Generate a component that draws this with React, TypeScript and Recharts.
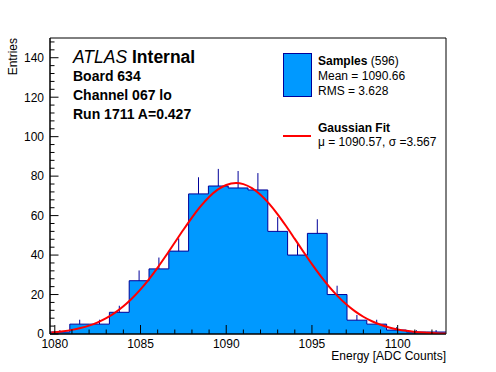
import React from "react";
import {
  ComposedChart,
  Area,
  Line,
  XAxis,
  YAxis,
  ReferenceLine,
  ReferenceArea,
} from "recharts";

// ---- Data ----
const binEdges = [
  1079.72, 1080.875, 1082.03, 1083.185, 1084.34, 1085.495, 1086.65, 1087.805,
  1088.96, 1090.115, 1091.27, 1092.425, 1093.58, 1094.735, 1095.89, 1097.045,
  1098.2, 1099.355, 1100.51, 1101.665, 1102.82,
];
const counts = [1, 5, 5, 11, 27, 33, 42, 71, 75, 74, 73, 52, 40, 51, 20, 7, 5, 2, 1, 1];

const fitX = [
  1079.8, 1080, 1080.5, 1081, 1081.5, 1082, 1082.5, 1083, 1083.5, 1084, 1084.5,
  1085, 1085.5, 1086, 1086.5, 1087, 1087.5, 1088, 1088.5, 1089, 1089.5, 1090,
  1090.57, 1091, 1091.5, 1092, 1092.5, 1093, 1093.5, 1094, 1094.5, 1095, 1095.5,
  1096, 1096.5, 1097, 1097.5, 1098, 1098.5, 1099, 1099.5, 1100, 1100.5, 1101,
  1101.5, 1102, 1102.5, 1102.8,
];
const fitY = [
  0.8, 0.95, 1.42, 2.09, 3.02, 4.27, 5.92, 8.05, 10.73, 14.03, 17.99, 22.61,
  27.86, 33.67, 39.9, 46.36, 52.82, 59.01, 64.64, 69.44, 73.13, 75.53, 76.5,
  75.95, 73.94, 70.59, 66.08, 60.66, 54.6, 48.18, 41.69, 35.38, 29.44, 24.01,
  19.21, 15.06, 11.59, 8.74, 6.46, 4.69, 3.33, 2.32, 1.59, 1.06, 0.7, 0.45,
  0.28, 0.21,
];

const xTicks = [
  1080, 1081, 1082, 1083, 1084, 1085, 1086, 1087, 1088, 1089, 1090, 1091, 1092,
  1093, 1094, 1095, 1096, 1097, 1098, 1099, 1100, 1101, 1102,
];
const xMajor = [1080, 1085, 1090, 1095, 1100];
const yTicks = [
  0, 4, 8, 12, 16, 20, 24, 28, 32, 36, 40, 44, 48, 52, 56, 60, 64, 68, 72, 76,
  80, 84, 88, 92, 96, 100, 104, 108, 112, 116, 120, 124, 128, 132, 136, 140,
  144, 148,
];
const yMajor = [0, 20, 40, 60, 80, 100, 120, 140];
const yMax = 150;

const nEntries = 596;
const meanText = "1090.66";
const rmsText = "3.628";
const fitMu = "1090.57";
const fitSigma = "3.567";

const infoLines = ["Board 634", "Channel 067 lo", "Run 1711 A=0.427"];

// ---- Derived tables ----
const histData = binEdges.map((x, i) => ({
  x,
  y: i < counts.length ? counts[i] : counts[counts.length - 1],
}));
const errData = counts.map((c, i) => ({
  x: (binEdges[i] + binEdges[i + 1]) / 2,
  lo: c,
  hi: c + Math.sqrt(c),
}));
const fitData = fitX.map((x, i) => ({ x, y: fitY[i] }));

const FONT = "'Liberation Sans', Arial, Helvetica, sans-serif";
const FILL = "#0099ff";
const LINE = "#000099";

const XTick = (props: any) => {
  const { x, y, payload } = props;
  const major = xMajor.includes(payload.value);
  return (
    <g>
      <line x1={x} x2={x} y1={y} y2={y - (major ? 9 : 4.5)} stroke="#000" strokeWidth={1} />
      {major && (
        <text x={x} y={y + 13.5} textAnchor="middle" fontSize={12} fontFamily={FONT} fill="#000">
          {payload.value}
        </text>
      )}
    </g>
  );
};

const YTick = (props: any) => {
  const { x, y, payload } = props;
  const major = yMajor.includes(payload.value);
  return (
    <g>
      <line x1={x} x2={x + (major ? 8.5 : 4.5)} y1={y} y2={y} stroke="#000" strokeWidth={1} />
      {major && (
        <text x={x - 6} y={y + 4.3} textAnchor="end" fontSize={12} fontFamily={FONT} fill="#000">
          {payload.value}
        </text>
      )}
    </g>
  );
};

export default function App() {
  return (
    <div
      style={{
        position: "absolute",
        left: 0,
        top: 0,
        width: 496,
        height: 372,
        background: "#fff",
        fontFamily: FONT,
      }}
    >
      <ComposedChart
        width={496}
        height={372}
        margin={{ top: 38, right: 50, left: 0, bottom: 0 }}
      >
        <XAxis
          type="number"
          dataKey="x"
          domain={[binEdges[0], binEdges[binEdges.length - 1]]}
          ticks={xTicks}
          tick={<XTick />}
          tickLine={false}
          tickSize={0}
          tickMargin={0}
          height={38}
          axisLine={{ stroke: "#000" }}
          interval={0}
          allowDataOverflow
        />
        <YAxis
          type="number"
          domain={[0, yMax]}
          ticks={yTicks}
          tick={<YTick />}
          tickLine={false}
          tickSize={0}
          tickMargin={0}
          width={50}
          axisLine={{ stroke: "#000" }}
          interval={0}
          allowDataOverflow
        />
        <Area
          data={histData}
          dataKey="y"
          type="stepAfter"
          fill={FILL}
          fillOpacity={1}
          stroke={LINE}
          strokeWidth={1}
          isAnimationActive={false}
          dot={false}
          activeDot={false}
        />
        {errData.map((e, i) => (
          <ReferenceLine
            key={i}
            segment={[
              { x: e.x, y: e.lo },
              { x: e.x, y: e.hi },
            ]}
            stroke={LINE}
            strokeWidth={1}
            ifOverflow="visible"
          />
        ))}
        <Line
          data={fitData}
          dataKey="y"
          type="monotone"
          stroke="#ff0000"
          strokeWidth={2}
          dot={false}
          activeDot={false}
          isAnimationActive={false}
        />
        <ReferenceArea
          x1={binEdges[0]}
          x2={binEdges[binEdges.length - 1]}
          y1={0}
          y2={yMax}
          fill="none"
          stroke="#000"
          strokeWidth={1}
          ifOverflow="visible"
        />
      </ComposedChart>
      <svg
        width={496}
        height={372}
        style={{ position: "absolute", left: 0, top: 0, pointerEvents: "none" }}
        fontFamily={FONT}
      >
        <text x={73} y={62.5} fontSize={17.5} fill="#000">
          <tspan fontStyle="italic">ATLAS</tspan>
          <tspan fontWeight="bold"> Internal</tspan>
        </text>
        {infoLines.map((t, i) => (
          <text key={t} x={73} y={81 + i * 19} fontSize={14} fontWeight="bold" fill="#000">
            {t}
          </text>
        ))}
        <rect x={283.5} y={53.5} width={28} height={43} fill={FILL} stroke={LINE} strokeWidth={1} />
        <text x={318} y={65} fontSize={12} fill="#000">
          <tspan fontWeight="bold">Samples</tspan>
          <tspan> ({nEntries})</tspan>
        </text>
        <text x={318} y={80} fontSize={12} fill="#000">
          Mean = {meanText}
        </text>
        <text x={318} y={94.5} fontSize={12} fill="#000">
          RMS = {rmsText}
        </text>
        <line x1={283} x2={311} y1={136} y2={136} stroke="#ff0000" strokeWidth={2} />
        <text x={318} y={132} fontSize={12} fontWeight="bold" fill="#000">
          Gaussian Fit
        </text>
        <text x={318} y={146} fontSize={12} fill="#000">
          {`\u03bc = ${fitMu}, \u03c3 =${fitSigma}`}
        </text>
        <text x={446} y={360} fontSize={12} textAnchor="end" fill="#000">
          Energy [ADC Counts]
        </text>
        <text
          x={0}
          y={0}
          fontSize={12}
          textAnchor="end"
          fill="#000"
          transform="translate(17,38) rotate(-90)"
        >
          Entries
        </text>
      </svg>
    </div>
  );
}
